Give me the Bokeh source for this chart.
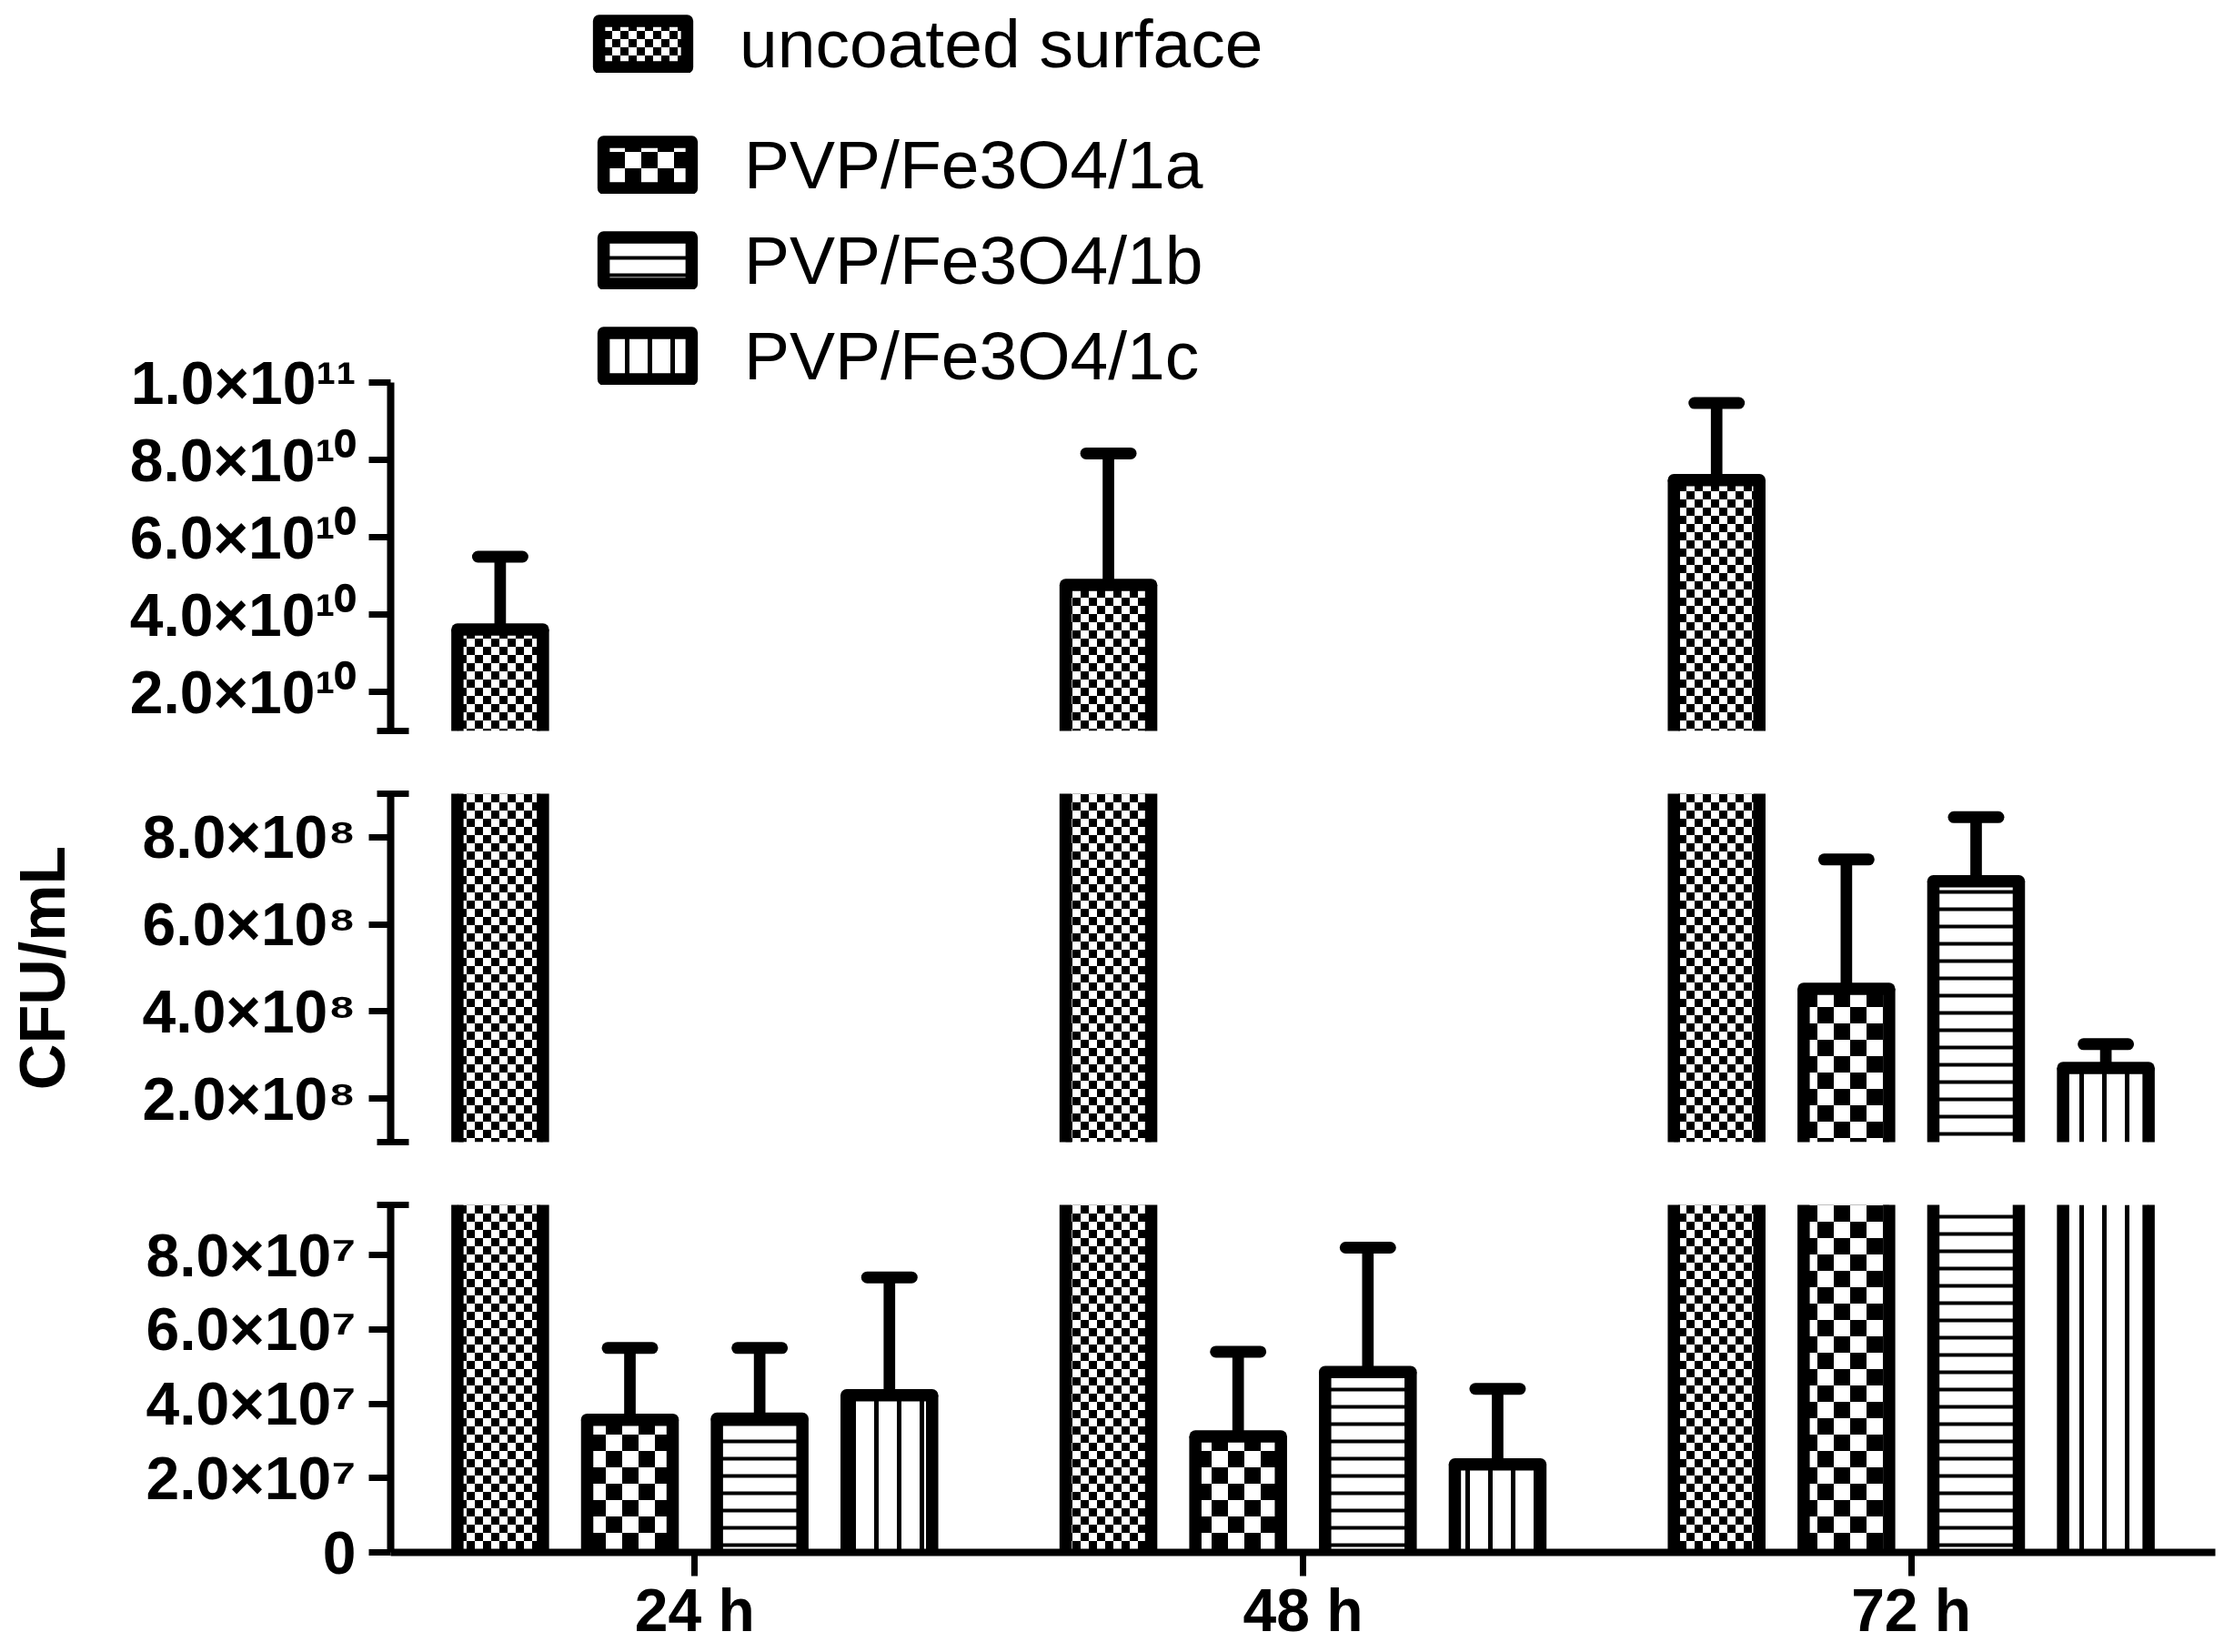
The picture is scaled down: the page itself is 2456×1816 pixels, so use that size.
import zlib, struct, base64
from bokeh.plotting import figure
from bokeh.models import (FactorRange, Range1d, FixedTicker, Legend, LegendItem,
                          ImageURLTexture, ColumnDataSource, CDSView, BooleanFilter)
from bokeh.transform import dodge
from bokeh.layouts import column
from bokeh.core.properties import value
from bokeh.embed import file_html
from bokeh.resources import INLINE

# ---------------- data ----------------
times = ["24 h", "48 h", "72 h"]
series_names = ["uncoated surface", "PVP/Fe3O4/1a", "PVP/Fe3O4/1b", "PVP/Fe3O4/1c"]

uncoated_mean = [3.62e10, 4.77e10, 7.48e10]
uncoated_sd = [1.88e10, 3.40e10, 1.99e10]
pvp_1a_mean = [3.57e7, 3.12e7, 4.52e8]
pvp_1a_sd = [1.93e7, 2.28e7, 2.97e8]
pvp_1b_mean = [3.60e7, 4.85e7, 6.99e8]
pvp_1b_sd = [1.90e7, 3.35e7, 1.47e8]
pvp_1c_mean = [4.23e7, 2.37e7, 2.70e8]
pvp_1c_sd = [3.17e7, 2.03e7, 0.55e8]

top_range = [1e10, 1e11]
top_ticks = [2e10, 4e10, 6e10, 8e10, 1e11]
top_labels = ["2.0×10¹⁰", "4.0×10¹⁰", "6.0×10¹⁰", "8.0×10¹⁰", "1.0×10¹¹"]
mid_range = [1e8, 9e8]
mid_ticks = [2e8, 4e8, 6e8, 8e8]
mid_labels = ["2.0×10⁸", "4.0×10⁸", "6.0×10⁸", "8.0×10⁸"]
bot_range = [0.0, 9.35e7]
bot_ticks = [0.0, 2e7, 4e7, 6e7, 8e7]
bot_labels = ["0", "2.0×10⁷", "4.0×10⁷", "6.0×10⁷", "8.0×10⁷"]

means = [uncoated_mean, pvp_1a_mean, pvp_1b_mean, pvp_1c_mean]
sds = [uncoated_sd, pvp_1a_sd, pvp_1b_sd, pvp_1c_sd]


# ---------------- textures ----------------
def checker_png(size, sq):
    raw = bytearray()
    for y in range(size):
        raw.append(0)
        for x in range(size):
            black = ((x // sq) + (y // sq)) % 2 == 0
            raw += bytes([0, 0, 0, 255]) if black else bytes([255, 255, 255, 255])

    def chunk(t, d):
        return (struct.pack(">I", len(d)) + t + d +
                struct.pack(">I", zlib.crc32(t + d) & 0xffffffff))
    png = (b"\x89PNG\r\n\x1a\n" +
           chunk(b"IHDR", struct.pack(">IIBBBBB", size, size, 8, 6, 0, 0, 0)) +
           chunk(b"IDAT", zlib.compress(bytes(raw))) + chunk(b"IEND", b""))
    return "data:image/png;base64," + base64.b64encode(png).decode()


textures = {"fine_checker": ImageURLTexture(url=checker_png(18, 9)),
            "coarse_checker": ImageURLTexture(url=checker_png(36, 18))}

FONT = "Liberation Sans"
styles = [
    dict(hatch_pattern=value("fine_checker"), hatch_scale=18, hatch_weight=1),
    dict(hatch_pattern=value("coarse_checker"), hatch_scale=36, hatch_weight=1),
    dict(hatch_pattern=value("horizontal_line"), hatch_scale=19, hatch_weight=4),
    dict(hatch_pattern=value("vertical_line"), hatch_scale=25, hatch_weight=5),
]
pitch = 0.2133
offsets = [-1.5 * pitch, -0.5 * pitch, 0.5 * pitch, 1.5 * pitch]
bar_w = 0.1406
cap_half = 0.0366
LW = 13.5

PANEL_PX = 383          # height of one axis segment in pixels
TOP_FRAME_PX = 803      # top figure frame also holds the legend area

x_range = FactorRange(*times)

sources = []
for m, s in zip(means, sds):
    sources.append(ColumnDataSource(dict(time=times, mean=m, sd=s,
                                         err_top=[a + b for a, b in zip(m, s)])))


def make_panel(yr, bounds, ticks, labels, minor, top_b, bot_b, fh, show_x=False):
    lo, hi = bounds
    p = figure(x_range=x_range, y_range=Range1d(*yr), frame_width=2006,
               frame_height=fh, min_border_left=429, min_border_right=13,
               min_border_top=top_b, min_border_bottom=bot_b,
               output_backend="svg", toolbar_location=None,
               x_axis_location="below" if show_x else None,
               background_fill_color="white", border_fill_color="white")
    p.outline_line_color = None
    p.xgrid.visible = False
    p.ygrid.visible = False
    legend_renderers = []
    for src, off, st, m in zip(sources, offsets, styles, means):
        reach = CDSView(filter=BooleanFilter(booleans=[v > lo for v in m]))
        inside = CDSView(filter=BooleanFilter(booleans=[lo < v < hi for v in m]))
        xl = dodge("time", off - bar_w / 2, range=x_range)
        xr = dodge("time", off + bar_w / 2, range=x_range)
        xc = dodge("time", off, range=x_range)
        # error bars
        p.segment(x0=xc, y0="mean", x1=xc, y1="err_top", source=src, view=inside,
                  line_color="black", line_width=12.7)
        p.segment(x0=dodge("time", off - cap_half, range=x_range), y0="err_top",
                  x1=dodge("time", off + cap_half, range=x_range), y1="err_top",
                  source=src, view=inside, line_color="black", line_width=13,
                  line_cap="round")
        # bar body (fill + pattern)
        p.vbar(x=xc, top="mean", bottom=0, width=bar_w, source=src, view=reach,
               fill_color="white", line_color=None, hatch_color="black",
               hatch_extra=textures, **st)
        # bar outline: sides and top edge
        p.segment(x0=xl, y0=0, x1=xl, y1="mean", source=src, view=reach,
                  line_color="black", line_width=LW, line_cap="butt")
        p.segment(x0=xr, y0=0, x1=xr, y1="mean", source=src, view=reach,
                  line_color="black", line_width=LW, line_cap="butt")
        p.segment(x0=xl, y0="mean", x1=xr, y1="mean", source=src, view=inside,
                  line_color="black", line_width=LW, line_cap="round")
        # legend swatch renderer (hidden in the plot area, shown in the legend)
        lr = p.vbar(x=xc, top="mean", bottom=0, width=bar_w, source=src,
                    fill_color="white", line_color="black", line_width=LW,
                    line_join="round", hatch_color="black",
                    hatch_extra=textures, visible=False, **st)
        legend_renderers.append(lr)
    ax = p.yaxis[0]
    ax.bounds = tuple(bounds)
    ax.ticker = FixedTicker(ticks=ticks, minor_ticks=minor)
    ax.major_label_overrides = {float(t): l for t, l in zip(ticks, labels)}
    ax.axis_line_width = 8
    ax.major_tick_line_width = 7
    ax.minor_tick_line_width = 7
    ax.major_tick_out = 24
    ax.major_tick_in = 0
    ax.minor_tick_out = 15
    ax.minor_tick_in = 20
    ax.major_label_standoff = 14
    ax.major_label_text_font = FONT
    ax.major_label_text_font_style = "bold"
    ax.major_label_text_font_size = "66px"
    ax.major_label_text_color = "black"
    if show_x:
        xa = p.xaxis[0]
        xa.axis_line_width = 8
        xa.major_tick_line_width = 7
        xa.major_tick_out = 26
        xa.major_tick_in = 0
        xa.minor_tick_out = 0
        xa.major_label_standoff = 0
        xa.major_label_text_font = FONT
        xa.major_label_text_font_style = "bold"
        xa.major_label_text_font_size = "66px"
        xa.major_label_text_color = "black"
    return p, legend_renderers


# top figure: its frame extends upward to hold the legend; the axis is bounded
top_view = [top_range[0],
            top_range[0] + (top_range[1] - top_range[0]) * TOP_FRAME_PX / PANEL_PX]
p_top, r_top = make_panel(top_view, top_range, top_ticks, top_labels, [top_range[0]],
                          0, 34, TOP_FRAME_PX)
p_mid, _ = make_panel(mid_range, mid_range, mid_ticks, mid_labels, mid_range,
                      35, 34, PANEL_PX)
p_bot, _ = make_panel(bot_range, bot_range, bot_ticks, bot_labels, [bot_range[1]],
                      35, 101, PANEL_PX - 1, show_x=True)

ya = p_mid.yaxis[0]
ya.axis_label = "CFU/mL"
ya.axis_label_text_font = FONT
ya.axis_label_text_font_style = "bold"
ya.axis_label_text_font_size = "70px"
ya.axis_label_text_color = "black"
ya.axis_label_standoff = 68


def make_legend(items, loc, spacing):
    return Legend(items=items, location=loc, orientation="vertical",
                  glyph_width=121, glyph_height=64, label_height=64,
                  label_standoff=46, label_text_font=FONT,
                  label_text_font_size="75px", label_text_color="black",
                  padding=0, margin=0, spacing=spacing,
                  inactive_fill_alpha=0.0,
                  border_line_color=None, background_fill_alpha=0)


leg1 = make_legend([LegendItem(label=series_names[0], renderers=[r_top[0]])],
                   (217, 712), 0)
leg2 = make_legend([LegendItem(label=series_names[i], renderers=[r_top[i]])
                    for i in (1, 2, 3)], (222, 369), 19)
p_top.add_layout(leg1)
p_top.add_layout(leg2)

layout = column(p_top, p_mid, p_bot, spacing=0)
open("out.html", "w").write(file_html(layout, INLINE))
